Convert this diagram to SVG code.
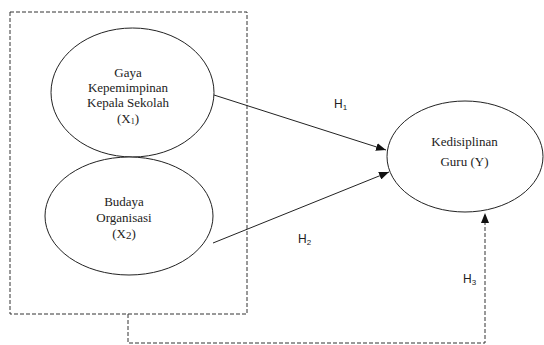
<svg xmlns="http://www.w3.org/2000/svg" width="544" height="345" viewBox="0 0 544 345">
<style>
.node{fill:#fff;stroke:#222;stroke-width:1}
.t{font-family:"Liberation Serif","Times New Roman",serif;font-size:13px;fill:#222;text-anchor:middle}
.h{font-family:"Liberation Sans",Arial,sans-serif;font-size:12px;fill:#222}
.sub{font-size:8px}
.line{fill:none;stroke:#222;stroke-width:1}
.dash{fill:none;stroke:#333;stroke-width:1;stroke-dasharray:4 2}
</style>
<defs>
<marker id="arr" viewBox="0 0 10 8" refX="10" refY="4" markerWidth="10" markerHeight="8" markerUnits="userSpaceOnUse" orient="auto">
<path d="M0,0 L10,4 L0,8 z" fill="#111"/>
</marker>
</defs>
<rect id="group-box" x="10" y="12" width="237" height="302" class="dash"/>
<g id="connectors">
<line class="line" x1="214" y1="95" x2="386" y2="150" marker-end="url(#arr)"/>
<line class="line" x1="213" y1="243" x2="389" y2="172" marker-end="url(#arr)"/>
<polyline class="dash" points="128,314 128,343 485,343 485,213" marker-end="url(#arr)"/>
<text class="h" x="334" y="108">H<tspan class="sub" dy="2">1</tspan></text>
<text class="h" x="298" y="243">H<tspan class="sub" dy="2">2</tspan></text>
<text class="h" x="463" y="283">H<tspan class="sub" dy="2">3</tspan></text>
</g>
<g id="x1">
<ellipse class="node" cx="132.5" cy="92.5" rx="81.5" ry="64.5"/>
<text class="t" x="128" y="77">Gaya</text>
<text class="t" x="128" y="92">Kepemimpinan</text>
<text class="t" x="128" y="107">Kepala Sekolah</text>
<text class="t" x="128" y="123">(X<tspan class="sub" dy="1">1</tspan><tspan dy="-1">)</tspan></text>
</g>
<g id="x2">
<ellipse class="node" cx="129" cy="216" rx="84" ry="59"/>
<text class="t" x="124" y="206">Budaya</text>
<text class="t" x="124" y="222">Organisasi</text>
<text class="t" x="124" y="238">(X<tspan font-size="11px" dy="1">2</tspan><tspan dy="-1">)</tspan></text>
</g>
<g id="y">
<ellipse class="node" cx="465" cy="156.5" rx="78" ry="55.5"/>
<text class="t" x="464.5" y="146">Kedisiplinan</text>
<text class="t" x="464.5" y="166">Guru (Y)</text>
</g>
</svg>
